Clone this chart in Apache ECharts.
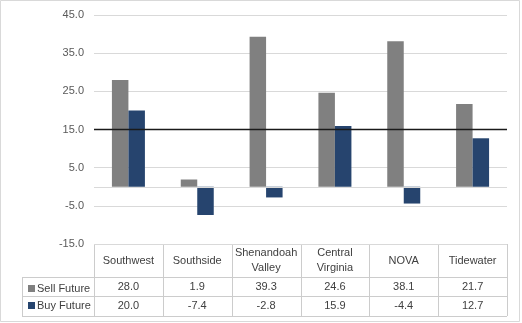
<!DOCTYPE html>
<html><head><meta charset="utf-8">
<script src="https://cdn.jsdelivr.net/npm/echarts@6/dist/echarts.min.js"></script>
<style>html,body{margin:0;padding:0;background:#fff}#c{width:522px;height:323px}</style>
</head><body><div id="c"></div>
<script>
var categories = ['Southwest', 'Southside', 'Shenandoah\nValley', 'Central\nVirginia', 'NOVA', 'Tidewater'];
var sellFuture = [28.0, 1.9, 39.3, 24.6, 38.1, 21.7];
var buyFuture = [20.0, -7.4, -2.8, 15.9, -4.4, 12.7];
var seriesNames = ['Sell Future', 'Buy Future'];
var referenceLine = 15;

var FONT = 'Liberation Sans';
var FS = 11;
var GL = 94, GR = 507, GT = 15, GB = 244;
var ROW1 = 277, ROW2 = 296, ROW3 = 316, LEGL = 22;
var colW = (GR - GL) / categories.length;
var lineColor = '#cccccc';

function fmt(v){ return v.toFixed(1); }

var graphics = [];
function line(x1,y1,x2,y2,c){
  graphics.push({type:'line', silent:true, shape:{x1:x1,y1:y1,x2:x2,y2:y2}, style:{stroke:c||lineColor, lineWidth:1}});
}
for (var i = 0; i <= categories.length; i++) {
  var x = Math.round(GL + i * colW) + 0.5;
  line(x, GB, x, ROW3);
}
line(LEGL+0.5, ROW1, LEGL+0.5, ROW3);
line(LEGL, ROW1+0.5, GR, ROW1+0.5);
line(LEGL, ROW2+0.5, GR, ROW2+0.5);
line(LEGL, ROW3+0.5, GR, ROW3+0.5);
graphics.push({type:'rect', silent:true, shape:{x:0.5,y:0.5,width:519,height:321}, style:{fill:'none', stroke:'#d9d9d9', lineWidth:1}});

function labelAxis(data, margin, color){
  return {
    type:'category', data:data, position:'bottom', gridIndex:0,
    axisLine:{show:false, onZero:false}, axisTick:{show:false}, splitLine:{show:false},
    axisLabel:{interval:0, margin:margin, verticalAlign:'middle', align:'center', color:color||'#404040', fontFamily:FONT, fontSize:FS, lineHeight:15}
  };
}

var chart = echarts.init(document.getElementById('c'));
chart.setOption({
  animation:false,
  backgroundColor:'#fff',
  grid:{left:GL, right:522-GR, top:GT, bottom:323-GB},
  legend:{
    orient:'vertical', left:LEGL+1, top:ROW1+1, itemGap:6,
    itemWidth:7, itemHeight:7, icon:'rect',
    data:seriesNames,
    textStyle:{fontFamily:FONT, fontSize:FS, color:'#404040', padding:[0,0,0,-3]},
    selectedMode:false
  },
  xAxis:[
    labelAxis(categories, 16.5),
    labelAxis(sellFuture.map(fmt), 42.5),
    labelAxis(buyFuture.map(fmt), 62)
  ],
  yAxis:{
    type:'value', min:-15, max:45, interval:10,
    axisLine:{show:false}, axisTick:{show:false},
    splitLine:{lineStyle:{color:'#d9d9d9', width:1}},
    axisLabel:{formatter:fmt, color:'#595959', fontFamily:FONT, fontSize:FS, margin:10}
  },
  series:[
    {name:seriesNames[0], type:'bar', data:sellFuture, barWidth:16.5, barGap:'0%', itemStyle:{color:'#808080'},
     markLine:{silent:true, symbol:'none', label:{show:false},
       data:[
         {yAxis:0, lineStyle:{color:'#d9d9d9', width:1, type:'solid'}},
         {yAxis:referenceLine, lineStyle:{color:'#1a1a1a', width:1.3, type:'solid'}}
       ]}},
    {name:seriesNames[1], type:'bar', data:buyFuture, barWidth:16.5, barGap:'0%', itemStyle:{color:'#26446e'}}
  ],
  graphic:graphics
});
</script></body></html>
